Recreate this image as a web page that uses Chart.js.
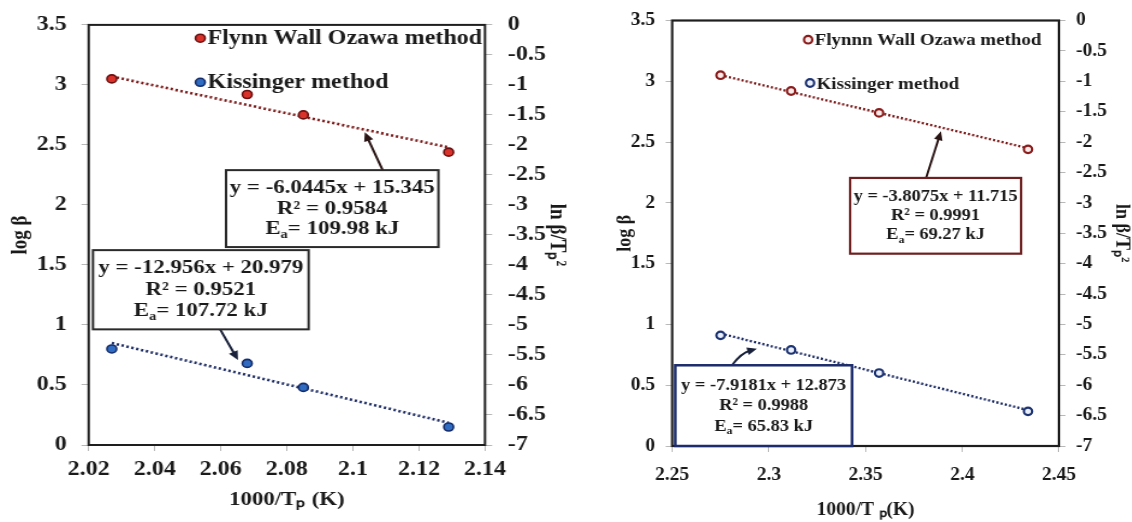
<!DOCTYPE html>
<html><head><meta charset="utf-8">
<script src="https://cdn.jsdelivr.net/npm/chart.js@4/dist/chart.umd.min.js"></script>
<style>
html,body{margin:0;padding:0;background:#fff;width:1132px;height:522px;overflow:hidden}
.wrap{position:absolute;top:0;height:522px;transform-origin:0 0}
</style></head><body>
<div id="wl" class="wrap"><canvas id="cl"></canvas></div>
<div id="wr" class="wrap"><canvas id="cr"></canvas></div>
<script>
// ---------- data ----------
const leftX = [2.027, 2.068, 2.085, 2.129];
const leftFwo = [3.05, 2.92, 2.75, 2.44];
const leftKis = [-5.40, -5.64, -6.04, -6.70];
const leftTrendX = [2.027, 2.129];
const leftFwoTrend = [3.07, 2.48];
const leftKisTrend = [-5.30, -6.63];

const rightX = [2.275, 2.3115, 2.357, 2.434];
const rightFwo = [3.05, 2.92, 2.74, 2.44];
const rightKis = [-5.18, -5.42, -5.80, -6.43];
const rightTrendX = [2.275, 2.434];
const rightFwoTrend = [3.05, 2.45];
const rightKisTrend = [-5.15, -6.41];

const leftXTicks = [2.02, 2.04, 2.06, 2.08, 2.1, 2.12, 2.14];
const rightXTicks = [2.25, 2.3, 2.35, 2.4, 2.45];
const logBetaTicks = [0, 0.5, 1, 1.5, 2, 2.5, 3, 3.5];
const lnTicks = [0, -0.5, -1, -1.5, -2, -2.5, -3, -3.5, -4, -4.5, -5, -5.5, -6, -6.5, -7];

const leftLegend = ["Flynn Wall Ozawa method", "Kissinger method"];
const rightLegend = ["Flynnn Wall Ozawa method", "Kissinger method"];
const leftFwoText = ["y = -6.0445x + 15.345", "R² = 0.9584", "E_a= 109.98 kJ"];
const leftKisText = ["y = -12.956x + 20.979", "R² = 0.9521", "E_a= 107.72 kJ"];
const rightFwoText = ["y = -3.8075x + 11.715", "R² = 0.9991", "E_a= 69.27 kJ"];
const rightKisText = ["y = -7.9181x + 12.873", "R² = 0.9988", "E_a= 65.83 kJ"];

const xTitleL = "1000/Tₚ (K)";
const xTitleR = "1000/T ₚ(K)";
const yTitle = "log β";
const y2Title = "ln β/Tₚ²";

// ---------- helpers ----------
const SERIF = "'Liberation Serif','Times New Roman',serif";
const fmt = v => String(Math.round(v * 100) / 100);
const pts = (xs, ys) => xs.map((x, i) => ({x, y: ys[i]}));
const setTicks = arr => s => { s.ticks = arr.map(v => ({value: v})); };

function drawRich(ctx, str, cx, cy, size) {
  const parts = str.split(/_(.)/);
  const segs = parts.map((t, i) => ({t, sub: i % 2 === 1}));
  const fNorm = `bold ${size}px ${SERIF}`, fSub = `bold ${Math.round(size * 0.62)}px ${SERIF}`;
  let w = 0;
  segs.forEach(s => { ctx.font = s.sub ? fSub : fNorm; s.w = ctx.measureText(s.t).width; w += s.w; });
  let x = cx - w / 2;
  ctx.textAlign = 'left'; ctx.textBaseline = 'middle';
  segs.forEach(s => {
    ctx.font = s.sub ? fSub : fNorm;
    ctx.fillText(s.t, x, s.sub ? cy + size * 0.3 : cy);
    x += s.w;
  });
}

function drawMarker(ctx, x, y, ds) {
  ctx.beginPath();
  ctx.arc(x, y, ds.pointRadius, 0, Math.PI * 2);
  ctx.fillStyle = ds.pointBackgroundColor; ctx.fill();
  ctx.lineWidth = ds.pointBorderWidth; ctx.strokeStyle = ds.pointBorderColor; ctx.stroke();
}

const notesPlugin = {
  id: 'notes',
  afterDatasetsDraw(chart, args, o) {
    const ctx = chart.ctx, ca = chart.chartArea, xs = chart.scales.x;
    ctx.save();
    // frame
    ctx.strokeStyle = o.frameColor; ctx.lineWidth = o.frameWidth;
    ctx.strokeRect(ca.left, ca.top, ca.right - ca.left, ca.bottom - ca.top);
    // legend
    o.legend.forEach(it => {
      const ds = chart.data.datasets[it.dataset];
      const px = xs.getPixelForValue(it.x), py = chart.scales.y.getPixelForValue(it.y);
      drawMarker(ctx, px, py, ds);
      ctx.fillStyle = o.textColor; ctx.font = `bold ${o.legendSize}px ${SERIF}`;
      ctx.textAlign = 'left'; ctx.textBaseline = 'middle';
      ctx.fillText(ds.label, px + o.legendGap, py + 1);
    });
    // boxes and arrows
    o.boxes.forEach(b => {
      const ys = chart.scales[b.axis];
      const l = xs.getPixelForValue(b.xMin), r = xs.getPixelForValue(b.xMax);
      const t = ys.getPixelForValue(b.yMax), bt = ys.getPixelForValue(b.yMin);
      // arrow
      const sx = xs.getPixelForValue(b.arrow.fromX), sy = b.arrow.edge === 'top' ? t : bt;
      const tx = xs.getPixelForValue(b.arrow.toX), ty = ys.getPixelForValue(b.arrow.toY);
      ctx.strokeStyle = b.arrowColor; ctx.fillStyle = b.arrowColor; ctx.lineWidth = 2;
      let ang;
      ctx.beginPath(); ctx.moveTo(sx, sy);
      if (b.arrow.bend) {
        const mx = (sx + tx) / 2, my = (sy + ty) / 2;
        const dx = tx - sx, dy = ty - sy, len = Math.hypot(dx, dy);
        const cx = mx - dy / len * b.arrow.bend, cy = my + dx / len * b.arrow.bend;
        const hl = 8;
        ang = Math.atan2(ty - cy, tx - cx);
        ctx.quadraticCurveTo(cx, cy, tx - Math.cos(ang) * hl * 0.8, ty - Math.sin(ang) * hl * 0.8);
      } else {
        ang = Math.atan2(ty - sy, tx - sx);
        ctx.lineTo(tx - Math.cos(ang) * 7, ty - Math.sin(ang) * 7);
      }
      ctx.stroke();
      const hl = 9, hw = 4;
      ctx.beginPath();
      ctx.moveTo(tx, ty);
      ctx.lineTo(tx - Math.cos(ang) * hl + Math.sin(ang) * hw, ty - Math.sin(ang) * hl - Math.cos(ang) * hw);
      ctx.lineTo(tx - Math.cos(ang) * hl - Math.sin(ang) * hw, ty - Math.sin(ang) * hl + Math.cos(ang) * hw);
      ctx.closePath(); ctx.fill();
      // box
      ctx.fillStyle = '#ffffff'; ctx.fillRect(l, t, r - l, bt - t);
      ctx.strokeStyle = b.border; ctx.lineWidth = b.borderWidth;
      ctx.strokeRect(l, t, r - l, bt - t);
      ctx.fillStyle = o.textColor;
      const cx = (l + r) / 2, cy = (t + bt) / 2 + (b.dy || 0);
      b.lines.forEach((s, i) => drawRich(ctx, s, cx, cy + (i - (b.lines.length - 1) / 2) * b.gap, b.size));
    });
    ctx.restore();
  }
};

function axisCommon(size, pad) {
  return {
    grid: {display: true, drawOnChartArea: false, drawTicks: true, tickLength: 6, color: '#b8b8b8', lineWidth: 1},
    border: {display: false},
    ticks: {color: '#1a1a1a', font: {family: SERIF, size: size, weight: 'bold'}, padding: pad, callback: v => fmt(v), maxRotation: 0, autoSkip: false}
  };
}

function build(id, wrapId, left, width, S, c) {
  const w = document.getElementById(wrapId);
  w.style.left = left + 'px';
  w.style.width = (width / S) + 'px';
  w.style.transform = `scaleX(${S})`;
  const x = axisCommon(c.tickSize, c.xPad), y = axisCommon(c.tickSize, c.yPad), y2 = axisCommon(c.tickSize, c.y2Pad);
  Object.assign(x, {type: 'linear', min: c.xTicks[0], max: c.xTicks[c.xTicks.length - 1], afterBuildTicks: setTicks(c.xTicks),
    afterFit: s => { s.height = c.xH; },
    title: {display: true, text: c.xTitle, color: '#1a1a1a', font: {family: SERIF, size: c.titleSize, weight: 'bold'}, padding: {top: 0, bottom: c.xTitlePad}}});
  Object.assign(y, {position: 'left', min: 0, max: 3.5, afterBuildTicks: setTicks(logBetaTicks),
    afterFit: s => { s.width = c.yW / S; },
    title: {display: true, text: yTitle, color: '#1a1a1a', font: {family: SERIF, size: c.titleSize, weight: 'bold'}, padding: {top: c.yTitlePad, bottom: 0}}});
  Object.assign(y2, {position: 'right', min: -7, max: 0, afterBuildTicks: setTicks(lnTicks),
    afterFit: s => { s.width = c.y2W / S; },
    title: {display: true, text: y2Title, color: '#1a1a1a', font: {family: SERIF, size: c.titleSize, weight: 'bold'}, padding: {top: c.y2TitlePad, bottom: 0}}});
  return new Chart(document.getElementById(id), {
    type: 'scatter',
    data: {datasets: c.datasets},
    options: {
      responsive: true, maintainAspectRatio: false, animation: false, devicePixelRatio: 1,
      layout: {padding: {top: c.top, left: 0, right: 0, bottom: 0}},
      scales: {x, y, y2},
      plugins: {legend: {display: false}, tooltip: {enabled: false}, notes: c.notes}
    },
    plugins: [notesPlugin]
  });
}

const FWO_LINE = '#7c1b1b', KIS_LINE = '#1f2e66';

// ---------- left chart ----------
const SL = 1.2;
build('cl', 'wl', 0, 585, SL, {
  tickSize: 20, titleSize: 19,
  xTicks: leftXTicks, xTitle: xTitleL,
  top: 24.5, xH: 77, yW: 88.5, y2W: 101,
  xPad: 6.5, yPad: 12.2, y2Pad: 12.9,
  xTitlePad: 10.6, yTitlePad: 5.3, y2TitlePad: 12.8,
  datasets: [
    {label: leftLegend[0], data: pts(leftX, leftFwo), yAxisID: 'y', pointRadius: 4, pointBackgroundColor: '#d8322b', pointBorderColor: '#6a1010', pointBorderWidth: 1.6, showLine: false},
    {label: leftLegend[1], data: pts(leftX, leftKis), yAxisID: 'y2', pointRadius: 4, pointBackgroundColor: '#2f6cc2', pointBorderColor: '#152c6a', pointBorderWidth: 1.6, showLine: false},
    {label: 'fwo trend', data: pts(leftTrendX, leftFwoTrend), yAxisID: 'y', showLine: true, pointRadius: 0, borderColor: FWO_LINE, borderWidth: 2.6, borderDash: [2, 2.2]},
    {label: 'kis trend', data: pts(leftTrendX, leftKisTrend), yAxisID: 'y2', showLine: true, pointRadius: 0, borderColor: KIS_LINE, borderWidth: 2.6, borderDash: [2, 2.2]}
  ],
  notes: {
    frameColor: '#1e1e1e', frameWidth: 2, textColor: '#1a1a1a', legendSize: 20, legendGap: 6,
    legend: [{dataset: 0, x: 2.0538, y: 3.389}, {dataset: 1, x: 2.0538, y: 3.022}],
    boxes: [
      {axis: 'y', xMin: 2.0616, xMax: 2.1259, yMin: 1.649, yMax: 2.29, lines: leftFwoText, gap: 20.5, size: 19,
       border: '#2a2a2a', borderWidth: 2, arrowColor: '#2a1414', arrow: {fromX: 2.109, edge: 'top', toX: 2.1036, toY: 2.606}},
      {axis: 'y2', xMin: 2.0213, xMax: 2.0866, yMin: -5.073, yMax: -3.753, lines: leftKisText, gap: 21.5, size: 19,
       border: '#2a2a2a', borderWidth: 2, arrowColor: '#18203a', arrow: {fromX: 2.0598, edge: 'bottom', toX: 2.0652, toY: -5.584}}
    ]
  }
});

// ---------- right chart ----------
const SR = 1.08;
build('cr', 'wr', 585, 547, SR, {
  tickSize: 18, titleSize: 18,
  xTicks: rightXTicks, xTitle: xTitleR,
  top: 19, xH: 76, yW: 87, y2W: 74,
  xPad: 12.6, yPad: 9.7, y2Pad: 9.7,
  xTitlePad: 1.2, yTitlePad: 26.9, y2TitlePad: 0,
  datasets: [
    {label: rightLegend[0], data: pts(rightX, rightFwo), yAxisID: 'y', pointRadius: 3.8, pointBackgroundColor: '#fbeaea', pointBorderColor: '#8a1c1c', pointBorderWidth: 2.2, showLine: false},
    {label: rightLegend[1], data: pts(rightX, rightKis), yAxisID: 'y2', pointRadius: 3.8, pointBackgroundColor: '#eaf0fb', pointBorderColor: '#1d3372', pointBorderWidth: 2.2, showLine: false},
    {label: 'fwo trend', data: pts(rightTrendX, rightFwoTrend), yAxisID: 'y', showLine: true, pointRadius: 0, borderColor: FWO_LINE, borderWidth: 2.4, borderDash: [2, 2]},
    {label: 'kis trend', data: pts(rightTrendX, rightKisTrend), yAxisID: 'y2', showLine: true, pointRadius: 0, borderColor: KIS_LINE, borderWidth: 2.4, borderDash: [2, 2]}
  ],
  notes: {
    frameColor: '#1e1e1e', frameWidth: 2.2, textColor: '#1a1a1a', legendSize: 17.5, legendGap: 6,
    legend: [{dataset: 0, x: 2.3203, y: 3.342}, {dataset: 1, x: 2.3213, y: 2.986}],
    boxes: [
      {axis: 'y', xMin: 2.342, xMax: 2.4304, yMin: 1.582, yMax: 2.205, lines: rightFwoText, gap: 19, size: 17,
       border: '#6e2020', borderWidth: 2.2, arrowColor: '#2a1414', arrow: {fromX: 2.3813, edge: 'top', toX: 2.389, toY: 2.59}},
      {axis: 'y2', xMin: 2.2516, xMax: 2.343, yMin: -7, yMax: -5.672, lines: rightKisText, gap: 20.5, size: 17,
       border: '#1c2c6c', borderWidth: 2.5, arrowColor: '#18203a', arrow: {fromX: 2.2809, edge: 'top', toX: 2.2938, toY: -5.40, bend: -5}}
    ]
  }
});
</script>
</body></html>
